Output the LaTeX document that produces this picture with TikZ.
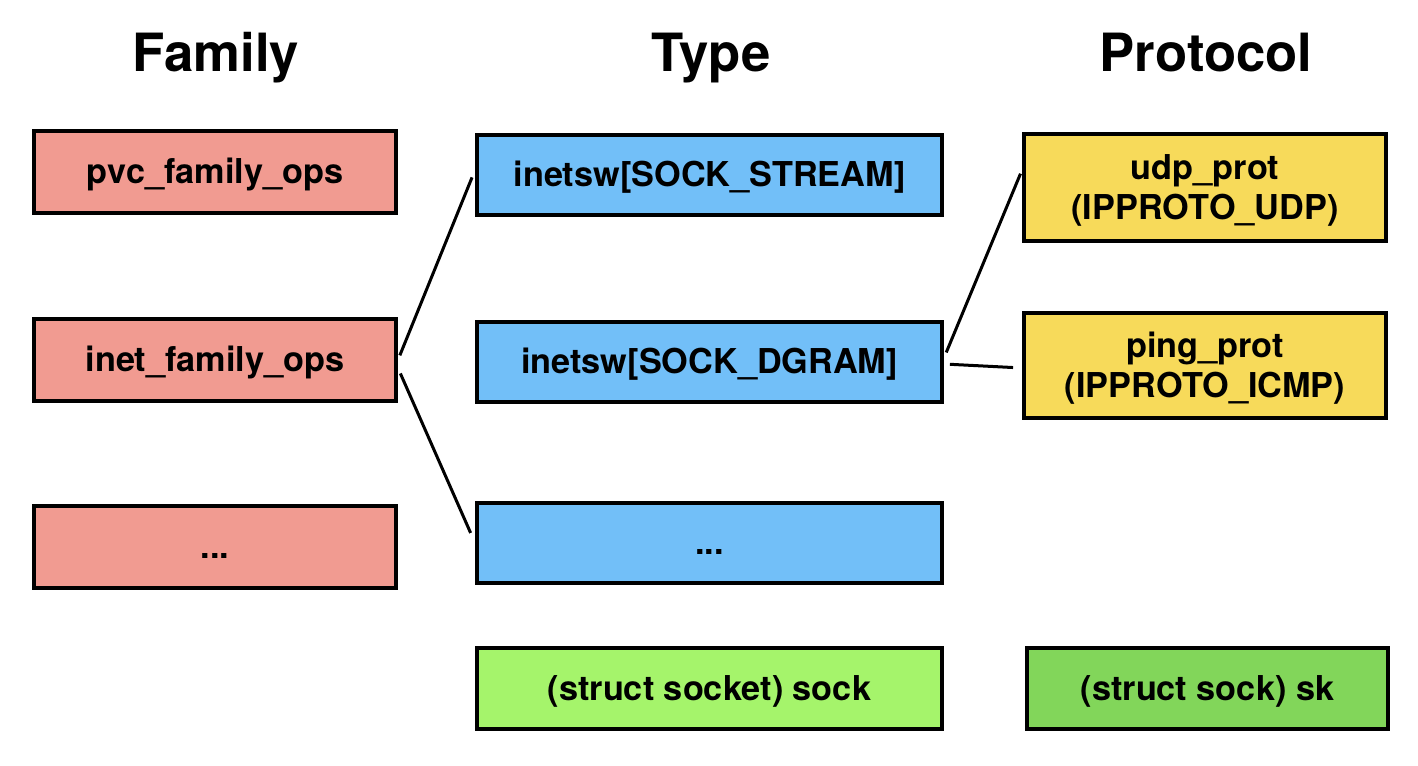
\documentclass[tikz,border=0pt]{standalone}
\usepackage{fontspec}
\setsansfont{TeX Gyre Heros}
\usetikzlibrary{positioning}
\definecolor{famred}{HTML}{F19B91}
\definecolor{typblue}{HTML}{72BFF8}
\definecolor{protyellow}{HTML}{F7DA5A}
\definecolor{sockgreen}{HTML}{A5F46B}
\definecolor{skgreen}{HTML}{82D65A}
\tikzset{
  box/.style={draw=black, line width=0.08cm, align=center, inner sep=2pt,
              minimum width=7.24cm, minimum height=1.64cm,
              text height=0.48cm, text depth=0cm,
              font=\sffamily\bfseries\fontsize{19.5}{23}\selectfont},
  fam/.style={box, fill=famred},
  typ/.style={box, fill=typblue, minimum width=9.3cm, minimum height=1.62cm},
  prot/.style={box, fill=protyellow, minimum height=2.14cm, text height=1.29cm},
  head/.style={anchor=base, font=\sffamily\bfseries\fontsize{30}{36}\selectfont},
  link/.style={line width=0.06cm, draw=black},
}
\begin{document}
\begin{tikzpicture}[x=0.02cm, y=-0.02cm]
  \useasboundingbox (0,0) rectangle (1418,766);
  % column titles
  \node[head] (hfam) at (216,72) {Family};
  \node[head] (htyp) at (711,72) {Type};
  \node[head] (hprot) at (1206,72) {Protocol};
  % family
  \node[fam] (pvcfam) at (215,172) {pvc\_family\_ops};
  \node[fam] (inetfam) at (215,360) {inet\_family\_ops};
  \node[fam] (morefam) at (215,547) {...};
  % type
  \node[typ] (stream) at (709.5,175) {inetsw[SOCK\_STREAM]};
  \node[typ] (dgram) at (709.5,362) {inetsw[SOCK\_DGRAM]};
  \node[typ] (moretyp) at (709.5,543) {...};
  \node[typ, fill=sockgreen, minimum height=1.64cm] (sock) at (709.5,688.5) {(struct socket) sock};
  % protocol
  \node[prot] (udp) at (1205,187.5) {udp\_prot\\(IPPROTO\_UDP)};
  \node[prot, minimum height=2.1cm] (ping) at (1205,365.5) {ping\_prot\\(IPPROTO\_ICMP)};
  \node[fam, fill=skgreen, minimum width=7.22cm] (sk) at (1207.5,688.5) {(struct sock) sk};
  % links
  \draw[link, shorten <=0.1cm, shorten >=0.16cm] (inetfam.east) -- ([yshift=0.1cm]stream.west);
  \draw[link, shorten <=0.12cm, shorten >=0.22cm] ([yshift=-0.16cm]inetfam.east) -- (moretyp.west);
  \draw[link, shorten <=0.12cm, shorten >=0.08cm] ([yshift=0.08cm]dgram.east) -- ([yshift=0.35cm]udp.west);
  \draw[link, shorten <=0.12cm, shorten >=0.18cm] ([yshift=-0.04cm]dgram.east) -- ([yshift=-0.05cm]ping.west);
\end{tikzpicture}
\end{document}
